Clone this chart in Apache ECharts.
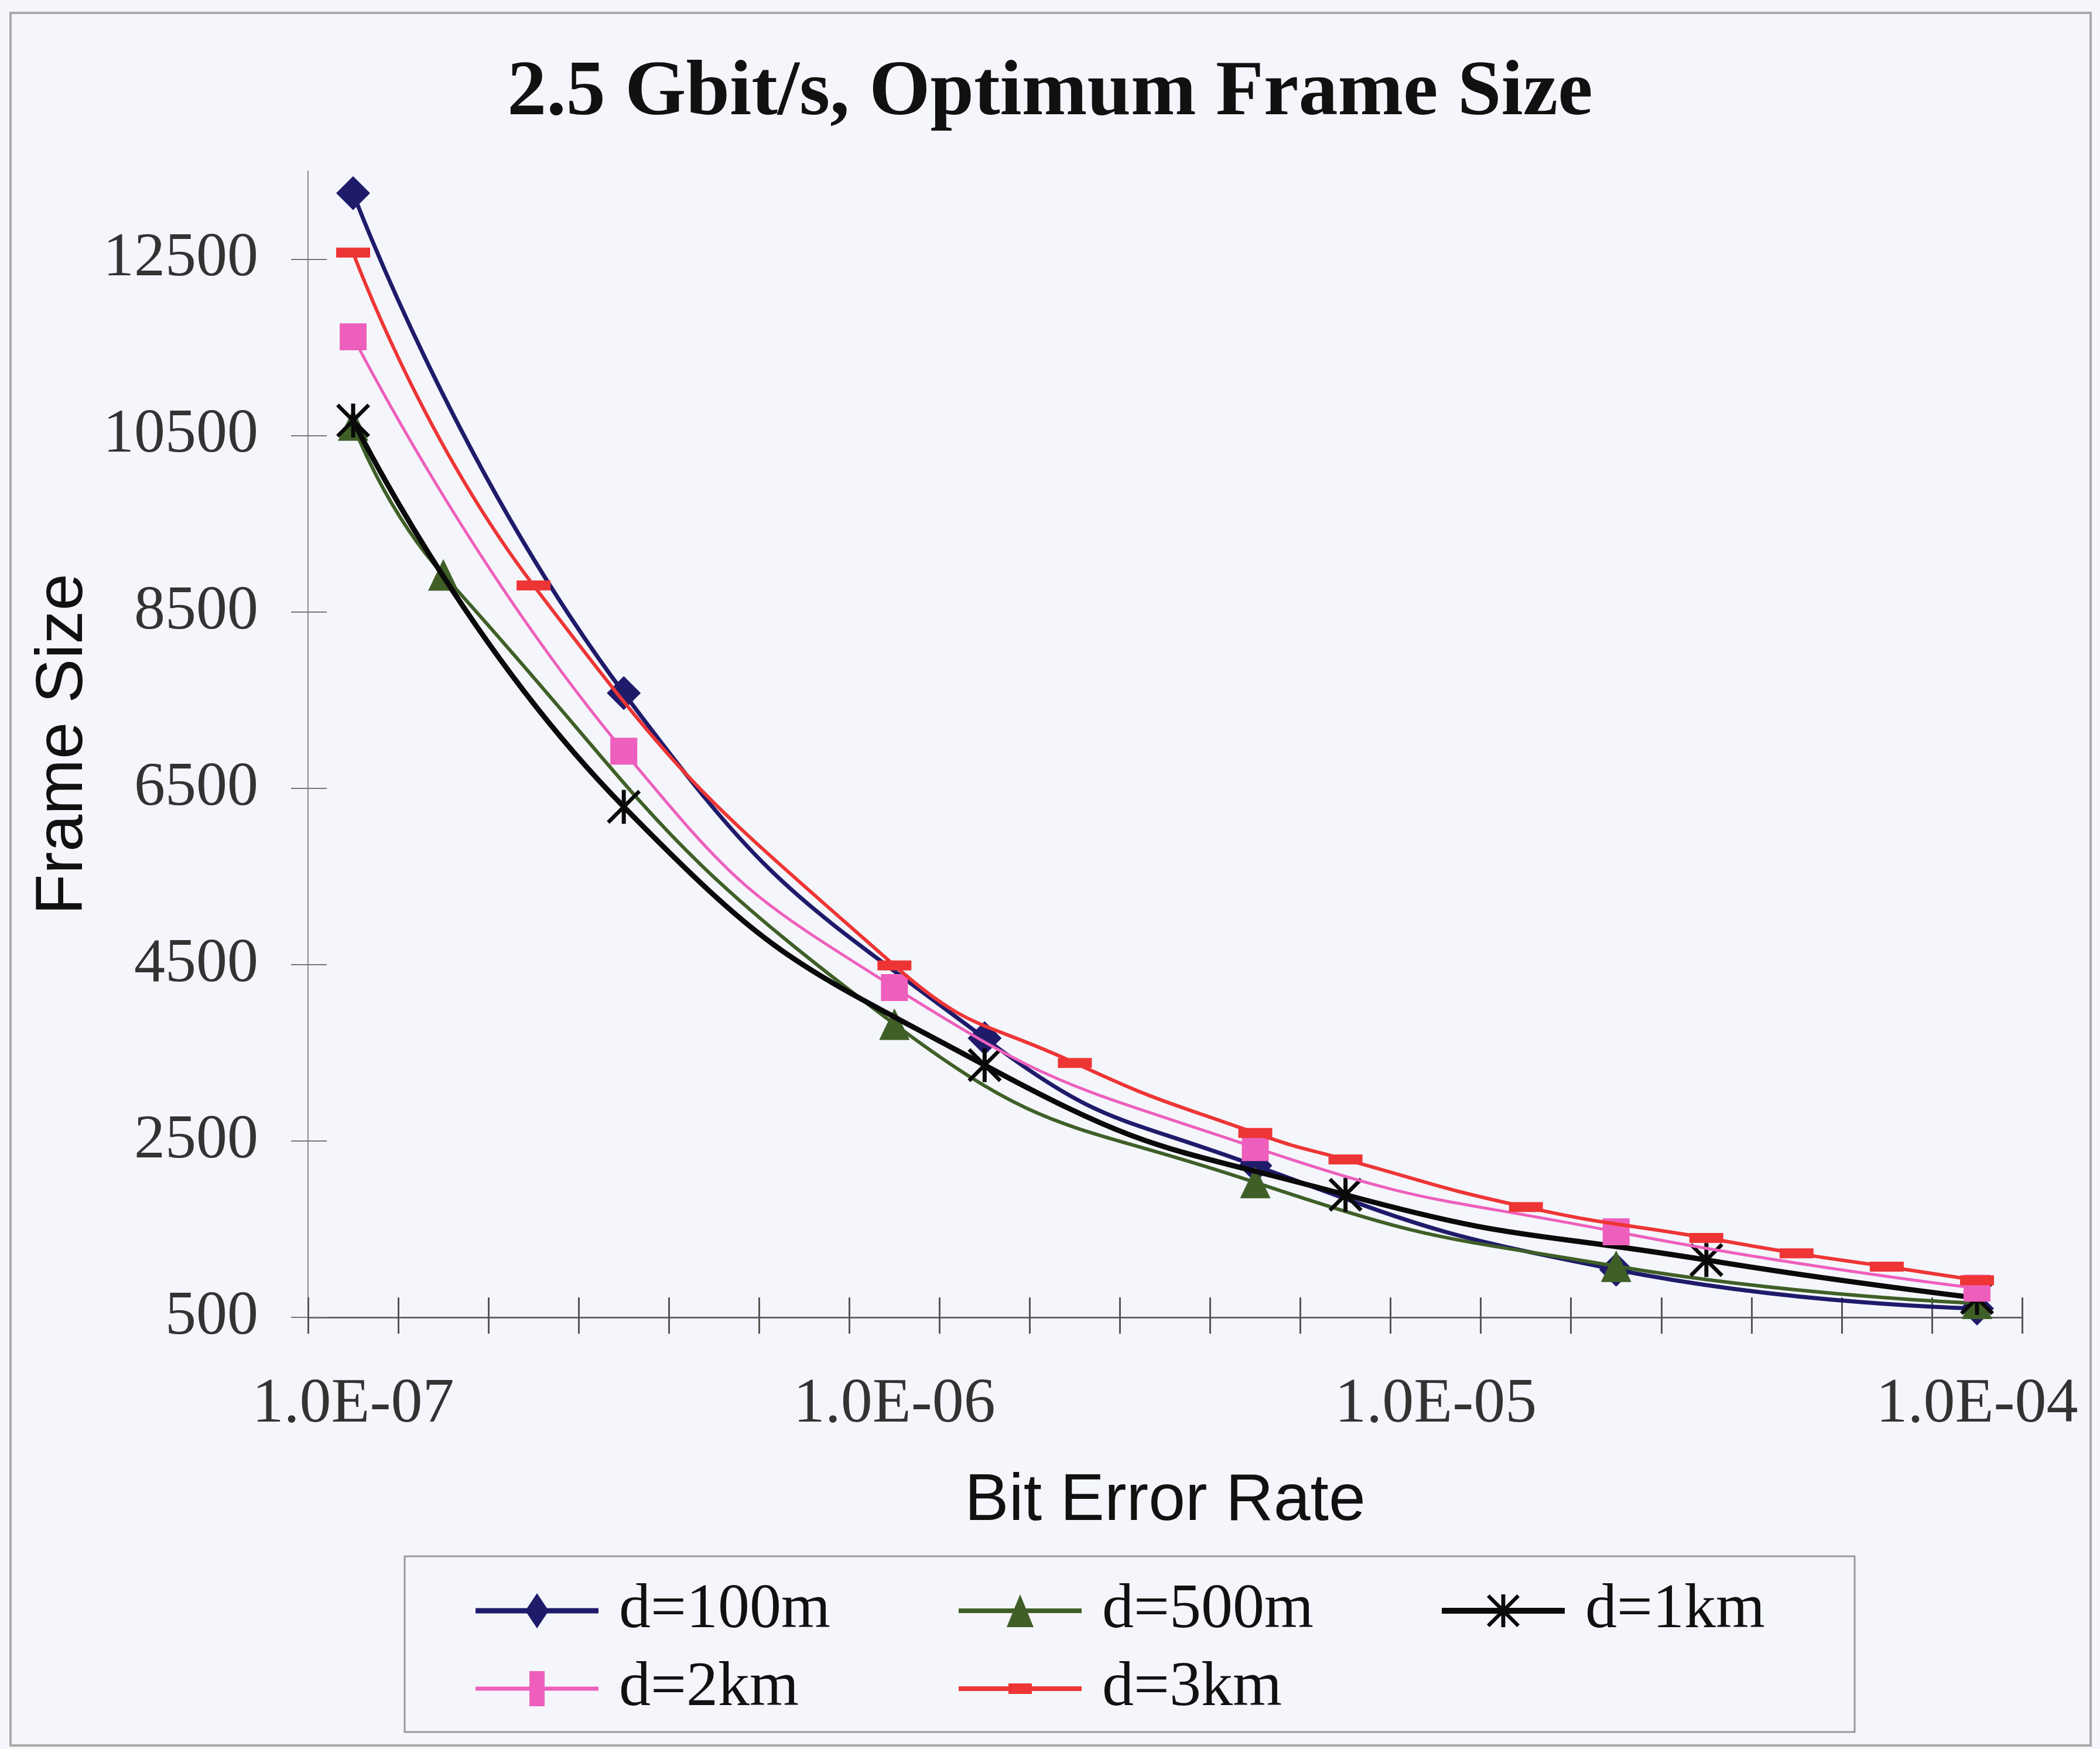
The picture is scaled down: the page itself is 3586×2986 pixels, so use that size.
<!DOCTYPE html>
<html><head><meta charset="utf-8">
<script src="https://cdn.jsdelivr.net/npm/echarts@6/dist/echarts.min.js"></script>
<style>html,body{margin:0;padding:0;background:#f4f6fb;} #c{width:3586px;height:2986px;}</style>
</head><body><div id="c"></div>
<script>
// Categories: bit error rate, 6 steps per decade; labels shown every 6th
const categories = ["1.0E-07","1.5E-07","2.2E-07","3.2E-07","4.6E-07","6.8E-07",
  "1.0E-06","1.5E-06","2.2E-06","3.2E-06","4.6E-06","6.8E-06",
  "1.0E-05","1.5E-05","2.2E-05","3.2E-05","4.6E-05","6.8E-05","1.0E-04"];
// Series values (null = no point at that category)
const d100m = [13250,null,null,7580,null,null,null,3665,null,null,2220,null,null,null,1040,null,null,null,600];
const d500m = [10620,8920,null,null,null,null,3825,null,null,null,2030,null,null,null,1080,null,null,null,660];
const d1km  = [10670,null,null,6290,null,null,null,3360,null,null,null,1890,null,null,null,1150,null,null,720];
const d2km  = [11620,null,null,6920,null,null,4240,null,null,null,2425,null,null,null,1470,null,null,null,830];
const d3km  = [12575,null,8800,null,null,null,4490,null,3385,null,2590,2290,null,1750,null,1400,1225,1075,920];
const yTicks = [500,2500,4500,6500,8500,10500,12500];
const seriesNames = ["d=100m","d=500m","d=1km","d=2km","d=3km"];

const SERIF = "'Liberation Serif','Times New Roman',serif";
const SANS = "'Liberation Sans',Arial,sans-serif";

// asterisk marker path (three bars) in a 100x100 box
function asteriskPath(ox, oy, s) {
  const polys = [
    [[44,0],[56,0],[56,100],[44,100]],
    [[0,8],[8,0],[100,92],[92,100]],
    [[92,0],[100,8],[8,100],[0,92]]
  ];
  return polys.map(p => 'M' + p.map(q => (ox + q[0]*s).toFixed(1) + ',' + (oy + q[1]*s).toFixed(1)).join('L') + 'Z').join(' ');
}
const asterisk = 'path://' + asteriskPath(0, 0, 1);
function lineRect(t) { return `M0,${32-t/2}L210,${32-t/2}L210,${32+t/2}L0,${32+t/2}Z`; }
const icons = {
  "d=100m": 'path://' + lineRect(9) + ' M105,2L125,32L105,62L85,32Z',
  "d=500m": 'path://' + lineRect(8) + ' M105,4L128,60L82,60Z',
  "d=1km":  'path://' + lineRect(10) + ' ' + asteriskPath(77, 4, 0.56),
  "d=2km":  'path://' + lineRect(7) + ' M92,2L118,2L118,62L92,62Z',
  "d=3km":  'path://' + lineRect(8) + ' M85,23L125,23L125,41L85,41Z'
};

const colors = ['#1f1b6b', '#3f5f27', '#0a0a0a', '#ee5fbd', '#ee3535'];
function mk(i, data, width, symbol, size) {
  return {
    name: seriesNames[i], type: 'line', data: data, connectNulls: true, smooth: 0.5,
    symbol: symbol, symbolSize: size, showAllSymbol: true,
    lineStyle: { color: colors[i], width: width },
    itemStyle: { color: colors[i] },
    z: 2 + i
  };
}

const chart = echarts.init(document.getElementById('c'), null, { renderer: 'canvas' });
const legendCommon = {
  orient: 'horizontal', left: 812, padding: 0, itemWidth: 210, itemHeight: 64, itemGap: 200,
  selectedMode: false,
  textStyle: { fontFamily: SERIF, fontSize: 108, color: '#111', width: 380, lineHeight: 110, padding: [0,0,0,30] }
};
chart.setOption({
  animation: false,
  backgroundColor: '#f4f6fb',
  title: {
    text: '2.5 Gbit/s, Optimum Frame Size', left: 'center', top: 88,
    textStyle: { fontFamily: SERIF, fontWeight: 'bold', fontSize: 134, color: '#111' }
  },
  legend: [
    Object.assign({}, legendCommon, { top: 2695, data: seriesNames.slice(0,3).map(n => ({ name: n, icon: icons[n] })) }),
    Object.assign({}, legendCommon, { top: 2828, data: seriesNames.slice(3).map(n => ({ name: n, icon: icons[n] })) })
  ],
  grid: { left: 526, right: 133, top: 292, bottom: 737, containLabel: false },
  xAxis: [{
    type: 'category', data: categories, boundaryGap: true, position: 'bottom',
    axisLine: { show: true, lineStyle: { color: '#666', width: 3 } },
    axisTick: { show: true, interval: 0, length: 28, lineStyle: { color: '#555', width: 3 } },
    axisLabel: { interval: 5, margin: 96, fontFamily: SERIF, fontSize: 108, color: '#333' },
    name: 'Bit Error Rate', nameLocation: 'middle', nameGap: 258,
    nameTextStyle: { fontFamily: SANS, fontSize: 113, color: '#111' }
  }, {
    type: 'category', data: categories, boundaryGap: true, position: 'bottom',
    axisLine: { show: false }, axisLabel: { show: false },
    axisTick: { show: true, inside: true, interval: 0, length: 34, lineStyle: { color: '#555', width: 3 } }
  }],
  yAxis: [{
    type: 'value', min: 500, max: 13500, interval: 2000, position: 'left',
    axisLine: { show: true, lineStyle: { color: '#888', width: 2 } },
    axisTick: { show: true, length: 29, customValues: yTicks, lineStyle: { color: '#777', width: 2 } },
    axisLabel: { customValues: yTicks, formatter: v => String(v), margin: 85, fontFamily: SERIF, fontSize: 106, color: '#333' },
    splitLine: { show: false },
    name: 'Frame Size', nameLocation: 'middle', nameRotate: 90, nameGap: 332,
    nameTextStyle: { fontFamily: SANS, fontSize: 114, color: '#111' }
  }, {
    type: 'value', min: 500, max: 13500, interval: 2000, position: 'left',
    axisLine: { show: false }, axisLabel: { show: false }, splitLine: { show: false },
    axisTick: { show: true, inside: true, length: 32, customValues: yTicks, lineStyle: { color: '#777', width: 2 } }
  }],
  graphic: [{
    type: 'rect', shape: { x: 18, y: 22, width: 3552, height: 2958 },
    style: { fill: 'none', stroke: '#a8a8a8', lineWidth: 4 }, z: 0, silent: true
  }, {
    type: 'rect', shape: { x: 691, y: 2657, width: 2476, height: 300 },
    style: { fill: 'none', stroke: '#9a9a9a', lineWidth: 3 }, z: 0, silent: true
  }],
  series: [
    mk(0, d100m, 7, 'diamond', 58),
    mk(1, d500m, 6, 'triangle', [52, 54]),
    mk(2, d1km, 9, asterisk, 58),
    mk(3, d2km, 5, 'rect', 46),
    mk(4, d3km, 6, 'rect', [58, 17])
  ]
});
</script>
</body></html>
